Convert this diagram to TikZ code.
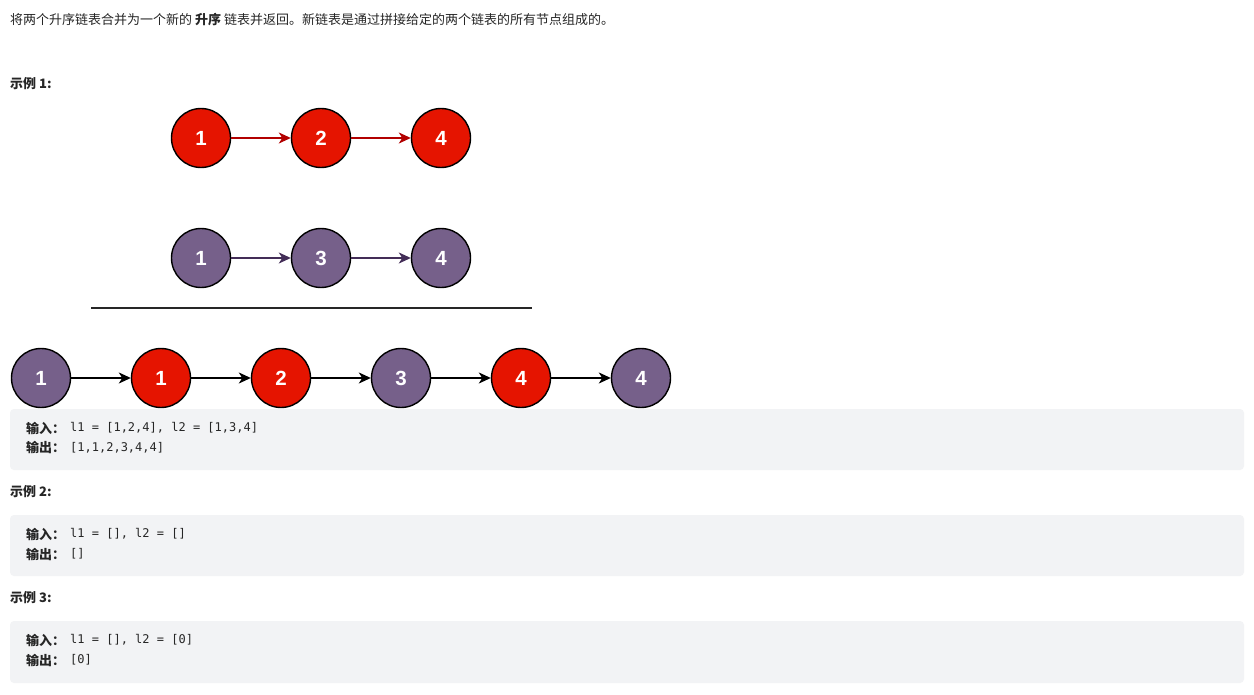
\documentclass[tikz,border=0pt]{standalone}
\usepackage{fontspec}
\setmainfont{Noto Sans CJK SC}
\setmonofont{DejaVu Sans Mono}
\newfontfamily\numfont{Liberation Sans}
\usetikzlibrary{arrows.meta}
\definecolor{nred}{HTML}{E51400}
\definecolor{npurple}{HTML}{76608A}
\definecolor{ared}{HTML}{B20000}
\definecolor{apurple}{HTML}{432D57}
\definecolor{boxbg}{HTML}{F2F3F5}
\definecolor{txt}{HTML}{262626}
\tikzset{
  lnode/.style={circle, draw=black, line width=1.4pt, minimum size=59pt, inner sep=0pt,
    text=white, font=\numfont\bfseries\fontsize{20.5}{24}\selectfont},
  rnode/.style={lnode, fill=nred},
  pnode/.style={lnode, fill=npurple},
  link/.style={line width=1.3pt, -{Stealth[length=12pt,width=11pt,inset=3.5pt]}},
  bodytext/.style={anchor=west, inner sep=0pt, text=txt, font=\fontsize{13}{16}\selectfont},
  headtext/.style={bodytext, font=\bfseries\fontsize{13}{16}\selectfont},
  codebox/.style={fill=boxbg, rounded corners=4pt, draw=none},
  codelabel/.style={anchor=west, inner sep=0pt, text=txt, font=\bfseries\fontsize{13}{16}\selectfont},
  codetext/.style={anchor=west, inner sep=0pt, text=txt, font=\ttfamily\fontsize{12}{15}\selectfont},
}
\begin{document}
\begin{tikzpicture}[x=1pt,y=-1pt]
\useasboundingbox[fill=white] (0,0) rectangle (1254,695);

% intro text
\node[bodytext] (intro) at (10,20) {将两个升序链表合并为一个新的 \textbf{升序} 链表并返回。新链表是通过拼接给定的两个链表的所有节点组成的。};
\node[headtext] (ex1) at (10,84) {示例 1:};

% list 1
\node[rnode] (a1) at (201,138) {1};
\node[rnode] (a2) at (321,138) {2};
\node[rnode] (a3) at (441,138) {4};
\draw[link, color=ared] (a1) -- (a2);
\draw[link, color=ared] (a2) -- (a3);

% list 2
\node[pnode] (b1) at (201,258) {1};
\node[pnode] (b2) at (321,258) {3};
\node[pnode] (b3) at (441,258) {4};
\draw[link, color=apurple] (b1) -- (b2);
\draw[link, color=apurple] (b2) -- (b3);

% separator
\coordinate (s1) at (91,308);
\coordinate (s2) at (532,308);
\draw[line width=2pt, color=black!85] (s1) -- (s2);

% merged
\node[pnode] (c1) at (41,378) {1};
\node[rnode] (c2) at (161,378) {1};
\node[rnode] (c3) at (281,378) {2};
\node[pnode] (c4) at (401,378) {3};
\node[rnode] (c5) at (521,378) {4};
\node[pnode] (c6) at (641,378) {4};
\foreach \p/\q in {c1/c2,c2/c3,c3/c4,c4/c5,c5/c6}
  \draw[link, color=black] (\p) -- (\q);

% example 1 box
\path[codebox] (10,409) rectangle (1244,470);
\node[codelabel] (in1) at (26,428) {输入：};
\node[codetext] (ci1) at (70,428) {l1 = [1,2,4], l2 = [1,3,4]};
\node[codelabel] (out1) at (26,448) {输出：};
\node[codetext] (co1) at (70,448) {[1,1,2,3,4,4]};

% example 2
\node[headtext] (ex2) at (10,492) {示例 2:};
\path[codebox] (10,515) rectangle (1244,576);
\node[codelabel] (in2) at (26,534) {输入：};
\node[codetext] (ci2) at (70,534) {l1 = [], l2 = []};
\node[codelabel] (out2) at (26,554) {输出：};
\node[codetext] (co2) at (70,554) {[]};

% example 3
\node[headtext] (ex3) at (10,598) {示例 3:};
\path[codebox] (10,621) rectangle (1244,683);
\node[codelabel] (in3) at (26,640) {输入：};
\node[codetext] (ci3) at (70,640) {l1 = [], l2 = [0]};
\node[codelabel] (out3) at (26,660) {输出：};
\node[codetext] (co3) at (70,660) {[0]};
\end{tikzpicture}
\end{document}
